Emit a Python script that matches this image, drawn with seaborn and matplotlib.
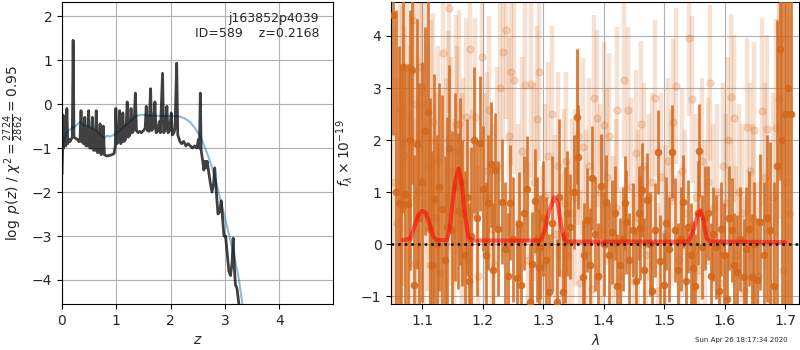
import numpy as np
import pandas as pd
import matplotlib
matplotlib.use("Agg")
import matplotlib.pyplot as plt
import seaborn as sns

# ---- left panel: redshift probability ----
z_grid = [0.000, 0.010, 0.020, 0.030, 0.050, 0.070, 0.090, 0.105, 0.130, 0.150,
          0.170, 0.190, 0.205, 0.220, 0.250, 0.280, 0.310, 0.330, 0.350, 0.370,
          0.400, 0.420, 0.440, 0.470, 0.490, 0.510, 0.540, 0.560, 0.580, 0.610,
          0.630, 0.650, 0.680, 0.700, 0.720, 0.740, 0.760, 0.780, 0.820, 0.870,
          0.920, 0.960, 0.980, 0.990, 1.010, 1.040, 1.060, 1.080, 1.100, 1.120,
          1.140, 1.170, 1.200, 1.220, 1.250, 1.270, 1.290, 1.320, 1.350, 1.370,
          1.400, 1.430, 1.460, 1.500, 1.530, 1.550, 1.570, 1.600, 1.630, 1.650,
          1.680, 1.710, 1.730, 1.760, 1.790, 1.810, 1.850, 1.870, 1.900, 1.930,
          1.950, 1.980, 2.010, 2.030, 2.060, 2.080, 2.110, 2.130, 2.170, 2.200,
          2.240, 2.280, 2.320, 2.360, 2.400, 2.440, 2.480, 2.510, 2.530, 2.545,
          2.560, 2.590, 2.610, 2.630, 2.650, 2.670, 2.700, 2.730, 2.760, 2.790,
          2.810, 2.840, 2.870, 2.900, 2.930, 2.960, 2.980, 3.010, 3.040, 3.070,
          3.100, 3.130, 3.150, 3.170, 3.190, 3.220, 3.250, 3.280]
log_pz = [-1.60, -1.10, -0.25, -1.00, -0.85, -0.95, -0.10, -0.90, -0.80, -0.85,
          -0.80, -0.75, 1.45, -0.75, -0.78, -0.80, -0.85, -0.85, -0.15, -0.85,
          -0.90, -0.30, -0.95, -0.95, -0.15, -1.00, -1.00, -0.30, -1.05, -1.05,
          -0.15, -1.10, -1.10, -0.45, -1.15, -1.10, -0.50, -1.15, -1.18, -1.17,
          -1.15, -1.12, -0.95, -0.10, -0.90, -0.85, -0.15, -0.90, -0.85, -0.20,
          -0.85, -0.80, 0.05, -0.75, -0.70, -0.10, -0.65, -0.60, 0.25, -0.60,
          -0.65, -0.62, -0.65, -0.60, -0.55, -0.05, -0.60, -0.62, 0.35, -0.60,
          -0.55, 0.05, -0.65, -0.62, -0.40, -0.65, 0.70, -0.65, -0.60, -0.05,
          -0.65, -0.60, -0.20, -0.70, -0.65, -0.55, 0.93, -0.70, -0.85, -0.90,
          -0.85, -0.95, -0.90, -0.95, -1.00, -0.95, -1.00, -0.80, -1.00, 0.25,
          -1.05, -1.30, -1.50, -1.30, -1.45, -1.30, -1.55, -1.80, -2.00, -1.80,
          -1.45, -2.00, -2.50, -2.45, -2.20, -2.70, -3.00, -3.00, -3.40, -3.80,
          -3.90, -3.60, -3.05, -3.70, -4.10, -4.20, -4.50, -4.80]

z_smooth = [0.00, 0.05, 0.10, 0.18, 0.25, 0.33, 0.40, 0.47, 0.55, 0.65,
            0.72, 0.78, 0.83, 0.88, 0.95, 1.05, 1.15, 1.25, 1.35, 1.45,
            1.60, 1.80, 2.00, 2.15, 2.25, 2.35, 2.45, 2.55, 2.65, 2.75,
            2.85, 2.95, 3.05, 3.15, 3.25, 3.32, 3.36]
log_pz_smooth = [-1.00, -0.75, -0.62, -0.55, -0.50, -0.40, -0.48, -0.50, -0.55, -0.62,
                 -0.72, -0.77, -0.72, -0.74, -0.70, -0.62, -0.50, -0.40, -0.28, -0.24,
                 -0.26, -0.27, -0.27, -0.28, -0.32, -0.40, -0.55, -0.75, -1.05, -1.40,
                 -1.85, -2.35, -2.85, -3.35, -3.95, -4.55, -4.90]

# ---- right panel: spectrum ----
wave = [1.051, 1.056, 1.062, 1.065, 1.068, 1.072, 1.077, 1.080, 1.083, 1.087,
        1.091, 1.095, 1.099, 1.104, 1.109, 1.113, 1.116, 1.119, 1.124, 1.128,
        1.133, 1.137, 1.141, 1.145, 1.150, 1.154, 1.159, 1.163, 1.166, 1.170,
        1.174, 1.178, 1.181, 1.186, 1.190, 1.195, 1.201, 1.205, 1.209, 1.213,
        1.217, 1.221, 1.226, 1.232, 1.237, 1.242, 1.245, 1.250, 1.256, 1.260,
        1.264, 1.268, 1.273, 1.278, 1.282, 1.286, 1.290, 1.293, 1.295, 1.300,
        1.305, 1.310, 1.315, 1.322, 1.326, 1.332, 1.336, 1.340, 1.344, 1.350,
        1.355, 1.358, 1.365, 1.368, 1.372, 1.377, 1.381, 1.386, 1.391, 1.395,
        1.400, 1.404, 1.408, 1.413, 1.418, 1.422, 1.427, 1.431, 1.435, 1.437,
        1.442, 1.448, 1.453, 1.458, 1.460, 1.463, 1.467, 1.471, 1.476, 1.480,
        1.485, 1.489, 1.493, 1.499, 1.503, 1.508, 1.513, 1.518, 1.522, 1.527,
        1.531, 1.536, 1.540, 1.544, 1.548, 1.551, 1.555, 1.558, 1.562, 1.567,
        1.573, 1.577, 1.581, 1.586, 1.590, 1.594, 1.598, 1.603, 1.607, 1.612,
        1.616, 1.620, 1.625, 1.631, 1.635, 1.640, 1.645, 1.649, 1.653, 1.659,
        1.664, 1.669, 1.675, 1.681, 1.686, 1.691, 1.695, 1.700, 1.705, 1.710]
flux = [4.40, 1.00, 0.80, 0.77, 3.40, 0.96, 0.77, 2.00, 3.35, -0.78,
        1.93, 0.50, 1.20, 2.17, 2.54, 0.30, -0.40, 0.87, 0.00, 1.10,
        0.67, -0.30, 0.34, 1.85, 0.27, 1.10, 0.64, 1.20, 0.60, -0.20,
        0.90, -0.70, 0.16, 2.00, 0.50, 1.94, 1.07, -0.20, 0.80, 1.54,
        -0.50, 1.43, 0.30, 0.82, -0.10, -0.60, 0.80, 0.10, -0.65, 0.38,
        -0.78, 0.60, 1.07, -1.10, -0.38, 0.83, 0.10, -0.43, -0.05, 0.50,
        -0.30, -0.91, 0.40, -1.10, 0.90, -0.92, 0.18, 0.60, 0.34, 1.00,
        2.45, 1.68, -0.63, -0.20, 0.47, -0.40, 1.27, 0.20, -0.60, 1.11,
        0.00, 0.82, -0.20, 0.24, 0.60, -0.80, -0.40, 0.10, 0.79, 0.43,
        -0.30, 0.27, -0.70, 0.60, 0.31, 1.04, -0.50, 0.85, 0.00, -0.90,
        0.27, 1.77, -0.33, -0.78, 0.40, -0.10, 1.78, 0.27, -0.50, 0.10,
        0.82, -0.70, 0.34, -0.20, -0.46, -0.81, 0.60, 1.80, -0.05, 0.50,
        0.60, -0.60, 0.20, -0.05, -0.90, 0.30, -0.20, -1.05, 0.50, 0.27,
        -0.40, -0.53, 0.10, -0.62, -0.10, 0.30, -0.62, 0.00, -0.69, 0.43,
        -0.20, 0.50, 0.27, -0.81, 1.50, 3.74, 2.00, 2.50, 3.00, 2.50]
flux_err = [2.3, 3.5, 3.0, 2.6, 2.8, 2.4, 2.7, 2.5, 2.2, 2.5,
            2.4, 2.6, 2.3, 2.0, 2.2, 2.5, 2.2, 2.4, 2.1, 2.0,
            2.2, 2.0, 2.1, 1.6, 1.9, 1.8, 1.5, 1.6, 1.4, 1.6,
            1.5, 1.5, 1.7, 1.4, 1.5, 1.3, 1.2, 1.4, 1.3, 1.2,
            1.3, 1.1, 1.3, 1.2, 1.3, 1.2, 1.1, 1.2, 1.1, 1.0,
            1.2, 1.1, 1.0, 1.1, 1.0, 1.0, 1.2, 1.1, 1.0, 1.1,
            1.2, 1.1, 1.3, 1.2, 1.5, 1.1, 1.3, 1.2, 1.0, 1.1,
            1.3, 1.0, 1.1, 1.0, 1.0, 1.1, 1.0, 1.1, 1.0, 1.0,
            1.0, 0.9, 1.0, 1.0, 0.9, 1.0, 0.9, 1.0, 0.9, 1.0,
            0.9, 0.9, 1.0, 0.9, 1.0, 0.9, 1.0, 0.9, 1.0, 0.9,
            0.9, 0.8, 0.9, 1.0, 0.9, 1.0, 0.9, 1.0, 0.9, 1.0,
            0.9, 1.0, 0.9, 1.0, 0.9, 1.0, 1.0, 0.9, 1.0, 1.0,
            0.9, 1.0, 0.9, 1.0, 1.0, 0.9, 1.0, 0.9, 1.0, 1.0,
            1.0, 1.1, 1.0, 1.1, 1.2, 1.1, 1.2, 1.2, 1.2, 1.3,
            1.4, 1.6, 1.7, 2.0, 2.8, 2.5, 4.0, 5.0, 5.0, 5.0]

wave_faint = [1.053, 1.058, 1.063, 1.067, 1.070, 1.075, 1.079, 1.085, 1.088, 1.090,
              1.093, 1.096, 1.100, 1.103, 1.106, 1.110, 1.112, 1.115, 1.118, 1.122,
              1.126, 1.130, 1.135, 1.139, 1.143, 1.145, 1.148, 1.152, 1.156, 1.158,
              1.161, 1.165, 1.168, 1.172, 1.176, 1.179, 1.183, 1.187, 1.192, 1.198,
              1.203, 1.207, 1.211, 1.215, 1.219, 1.224, 1.229, 1.234, 1.239, 1.243,
              1.247, 1.252, 1.258, 1.265, 1.270, 1.275, 1.280, 1.284, 1.289, 1.293,
              1.298, 1.303, 1.308, 1.314, 1.319, 1.324, 1.329, 1.334, 1.338, 1.341,
              1.347, 1.353, 1.358, 1.361, 1.365, 1.370, 1.375, 1.380, 1.384, 1.389,
              1.393, 1.397, 1.400, 1.406, 1.409, 1.415, 1.420, 1.422, 1.428, 1.434,
              1.440, 1.445, 1.450, 1.453, 1.456, 1.461, 1.466, 1.470, 1.474, 1.479,
              1.485, 1.490, 1.495, 1.501, 1.506, 1.511, 1.515, 1.520, 1.525, 1.530,
              1.535, 1.541, 1.546, 1.552, 1.557, 1.563, 1.568, 1.572, 1.576, 1.581,
              1.587, 1.592, 1.597, 1.602, 1.606, 1.611, 1.615, 1.619, 1.624, 1.629,
              1.633, 1.637, 1.642, 1.646, 1.649, 1.655, 1.661, 1.666, 1.670, 1.676,
              1.680, 1.684, 1.689, 1.692, 1.697, 1.702, 1.707]
flux_faint = [1.2, 0.4, 2.6, 1.9, 1.7, 3.4, 0.9, 4.30, -0.38, 2.7,
              1.0, 3.4, 3.0, 0.6, 2.7, 1.5, -0.4, 2.0, 2.35, 0.5,
              1.6, -0.55, 3.67, 0.9, 2.0, 4.53, 1.4, 0.1, 2.3, 1.8,
              2.3, 0.8, 1.2, 2.45, -0.3, 3.74, 0.6, 2.45, -0.6, 3.60,
              0.9, 1.4, 2.58, 0.3, -0.4, 1.5, 3.0, 3.70, 4.11, 2.07,
              3.31, 3.15, 0.4, 1.80, 3.06, -0.3, 3.07, 1.2, 2.40, 3.30,
              -0.4, 0.9, 1.7, 2.50, 0.2, 1.5, -0.55, 0.8, 1.60, -0.2,
              0.6, 0.9, 2.07, -0.75, 1.87, 0.4, 1.5, -0.85, 2.80, 2.42,
              1.0, 0.3, 2.29, 1.3, 2.07, -0.1, 0.7, 2.58, -0.6, 3.15,
              2.58, 1.1, -0.7, 1.75, 0.5, 2.31, 1.5, -0.2, 0.9, 1.2,
              2.80, -0.9, 1.3, 0.2, 1.6, 0.9, 2.35, 3.04, -0.3, 1.4,
              0.6, 3.96, 2.78, 0.9, -0.5, 1.6, 0.3, 1.2, 3.10, 0.7,
              1.0, -0.75, 1.5, 0.8, 2.0, 2.82, 2.42, -0.2, 1.0, 0.6,
              -0.9, 2.26, 1.4, 0.5, 2.19, -0.6, 2.55, 1.3, 2.22, -1.1,
              0.9, 2.23, 2.78, 3.94, -0.5, 1.2, 0.6]
flux_faint_err = [3.0, 2.8, 2.6, 2.7, 2.5, 2.6, 2.9, 2.5, 2.8, 2.4,
                  2.6, 2.3, 2.4, 2.5, 2.2, 2.4, 2.6, 2.3, 2.1, 2.4,
                  2.2, 2.5, 2.0, 2.3, 2.1, 2.0, 2.2, 2.3, 2.1, 2.0,
                  2.2, 2.1, 2.0, 1.9, 2.2, 1.8, 2.0, 1.9, 2.1, 1.8,
                  2.0, 1.9, 1.8, 2.0, 2.0, 1.9, 1.8, 1.7, 1.7, 1.9,
                  1.8, 1.8, 1.9, 1.8, 1.7, 1.9, 1.8, 1.9, 1.8, 1.7,
                  1.9, 1.8, 1.8, 1.7, 1.9, 1.8, 1.9, 1.8, 1.7, 1.8,
                  1.8, 1.7, 1.7, 1.8, 1.7, 1.8, 1.7, 1.8, 1.6, 1.7,
                  1.7, 1.8, 1.6, 1.7, 1.6, 1.8, 1.7, 1.6, 1.7, 1.5,
                  1.6, 1.7, 1.7, 1.6, 1.7, 1.6, 1.6, 1.7, 1.6, 1.7,
                  1.5, 1.7, 1.6, 1.7, 1.6, 1.7, 1.6, 1.5, 1.7, 1.6,
                  1.6, 1.5, 1.6, 1.6, 1.7, 1.6, 1.7, 1.6, 1.5, 1.6,
                  1.7, 1.7, 1.6, 1.7, 1.6, 1.6, 1.6, 1.7, 1.7, 1.7,
                  1.8, 1.7, 1.7, 1.8, 1.7, 1.8, 1.8, 1.8, 1.8, 1.9,
                  2.0, 2.1, 2.3, 2.6, 3.0, 3.5, 3.8]

model_wave = [1.068, 1.080, 1.086, 1.093, 1.100, 1.106, 1.112, 1.118, 1.124, 1.140,
              1.145, 1.150, 1.155, 1.160, 1.165, 1.170, 1.176, 1.182, 1.296, 1.303,
              1.310, 1.318, 1.324, 1.329, 1.335, 1.341, 1.540, 1.548, 1.555, 1.560,
              1.565, 1.570, 1.576, 1.700]
model_flux = [0.08, 0.10, 0.30, 0.55, 0.64, 0.60, 0.40, 0.15, 0.08, 0.08,
              0.25, 0.80, 1.25, 1.45, 1.20, 0.60, 0.15, 0.07, 0.07, 0.30,
              0.65, 0.90, 0.80, 0.40, 0.08, 0.05, 0.05, 0.25, 0.55, 0.65,
              0.45, 0.12, 0.05, 0.04]

sns.set_style("ticks")
plt.rcParams['font.family'] = ['DejaVu Sans']
plt.rcParams['axes.grid'] = True
plt.rcParams['grid.color'] = '#b0b0b0'
plt.rcParams['grid.linewidth'] = 0.8

spec_color = '#d2691e'

fig = plt.figure(figsize=(8, 3.5), dpi=100)
ax1 = fig.add_axes([0.0775, 0.131, 0.339, 0.863])
ax2 = fig.add_axes([0.489, 0.131, 0.51, 0.863])

# p(z)
pz = pd.DataFrame({'z': z_grid, 'logp': log_pz})
pz_s = pd.DataFrame({'z': z_smooth, 'logp': log_pz_smooth})
sns.lineplot(data=pz_s, x='z', y='logp', ax=ax1, color='tab:blue', alpha=0.5,
             lw=1.5, estimator=None, sort=False)
sns.lineplot(data=pz, x='z', y='logp', ax=ax1, color='k', alpha=0.75,
             lw=2, estimator=None, sort=False)
ax1.set_xlim(0, 4.99)
ax1.set_ylim(-4.55, 2.32)
ax1.set_xticks([0, 1, 2, 3, 4])
ax1.set_yticks([-4, -3, -2, -1, 0, 1, 2])
ax1.set_xlabel(r'$z$')
ax1.set_ylabel(r'$\log\ p(z)$' + ' / ' + r'$\chi^2=\frac{2724}{2862}=0.95$')
ax1.text(0.948, 0.967, 'j163852p4039\nID=589    z=0.2168', transform=ax1.transAxes,
         ha='right', va='top', fontsize=9)
ax1.grid(True)

# spectrum
ax2.errorbar(wave_faint, flux_faint, yerr=flux_faint_err, fmt='o', ms=5,
             color=spec_color, alpha=0.2, elinewidth=3.2, zorder=2)
ax2.errorbar(wave, flux, yerr=flux_err, fmt='o', ms=4.5,
             color=spec_color, alpha=0.85, elinewidth=2.0, zorder=3)
model = pd.DataFrame({'wave': model_wave, 'flux': model_flux})
sns.lineplot(data=model, x='wave', y='flux', ax=ax2, color='r', alpha=0.55,
             lw=3, estimator=None, sort=False, zorder=4)
ax2.set_xlim(1.0487, 1.723)
ax2.set_ylim(-1.15, 4.65)
ax2.plot([1.0487, 1.723], [0, 0], 'k:', lw=1.8, zorder=5)
ax2.set_xticks([1.1, 1.2, 1.3, 1.4, 1.5, 1.6, 1.7])
ax2.set_yticks([-1, 0, 1, 2, 3, 4])
ax2.set_xlabel(r'$\lambda$')
ax2.set_ylabel(r'$f_\lambda\times10^{-19}$')
ax2.grid(True)

for ax in (ax1, ax2):
    for s in ax.spines.values():
        s.set_visible(True)
        s.set_color('k')
    ax.tick_params(direction='out', length=3.5, color='k', labelsize=10)

fig.text(0.985, 0.029, 'Sun Apr 26 18:17:34 2020', ha='right', va='center', fontsize=5)

fig.savefig('out.png', dpi=100)
